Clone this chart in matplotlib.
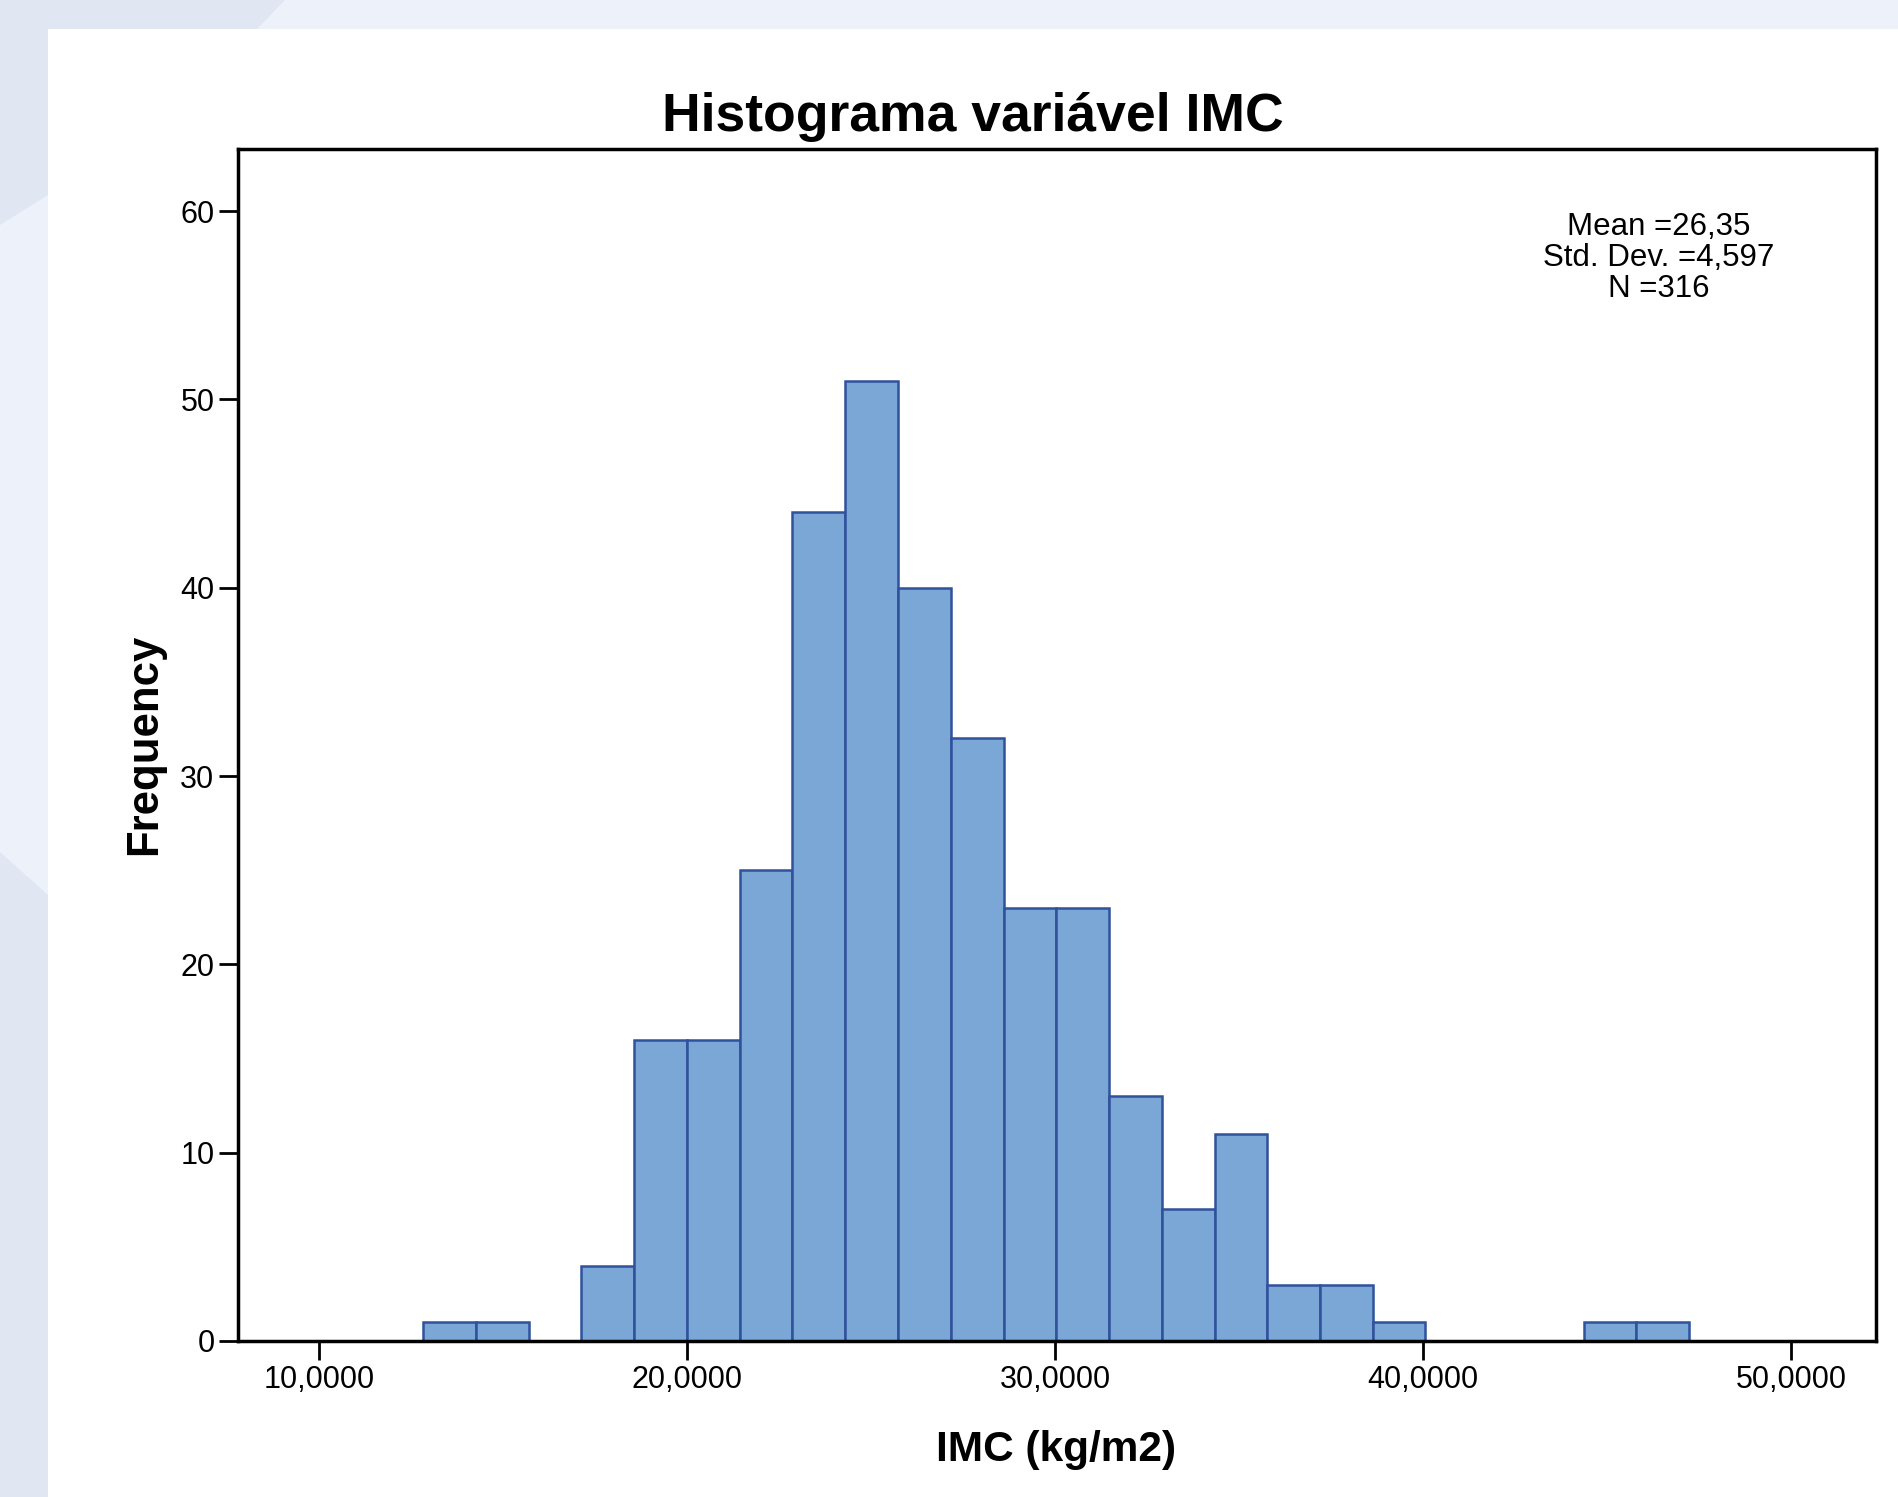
import numpy as np
import matplotlib.pyplot as plt
from matplotlib.patches import Polygon, Rectangle
from matplotlib.ticker import FuncFormatter

plt.rcParams["font.family"] = ["Liberation Sans", "DejaVu Sans"]

# histogram bins (IMC, kg/m2)
binEdges = [12.83, 14.26, 15.70, 17.13, 18.56, 20.00, 21.43, 22.86, 24.30,
            25.73, 27.16, 28.60, 30.03, 31.46, 32.90, 34.33, 35.76, 37.19,
            38.63, 40.06, 41.49, 42.93, 44.36, 45.79, 47.23]
counts = [1, 1, 0, 4, 16, 16, 25, 44, 51, 40, 32, 23, 23, 13, 7, 11,
          3, 3, 1, 0, 0, 0, 1, 1]
xTicks = [10, 20, 30, 40, 50]
yTicks = [0, 10, 20, 30, 40, 50, 60]
statsText = "Mean =26,35\nStd. Dev. =4,597\nN =316"

W, H = 1899, 1497
fig = plt.figure(figsize=(W / 100, H / 100), dpi=100)
fig.patch.set_facecolor("#edf1f9")

def px(points):
    return [(x / W, 1 - y / H) for x, y in points]

# page background: light bluish shapes behind a white panel
dark = "#e0e7f3"
fig.patches.append(Polygon(px([(0, 0), (285, 0), (257, 29), (48, 29), (48, 195), (0, 225)]),
                           closed=True, transform=fig.transFigure, facecolor=dark,
                           edgecolor="none", zorder=-10))
fig.patches.append(Polygon(px([(0, 852), (48, 895), (48, H), (0, H)]),
                           closed=True, transform=fig.transFigure, facecolor=dark,
                           edgecolor="none", zorder=-10))
fig.patches.append(Rectangle((48 / W, 0), 1 - 48 / W, 1 - 29 / H,
                             transform=fig.transFigure, facecolor="white",
                             edgecolor="none", zorder=-9))

ax = fig.add_axes([238 / W, 1 - 1341 / H, (1876 - 238) / W, (1341 - 149) / H])
ax.set_facecolor("white")

edges = np.array(binEdges)
ax.bar(edges[:-1], counts, width=np.diff(edges), align="edge",
       color="#7aa7d6", edgecolor="#30519c", linewidth=1.8, zorder=2)

ax.set_xlim(7.8, 52.3)
ax.set_ylim(0, 63.3)
ax.set_xticks(xTicks)
ax.set_yticks(yTicks)
ax.xaxis.set_major_formatter(FuncFormatter(lambda v, p: f"{v:.4f}".replace(".", ",")))
ax.tick_params(axis="both", direction="out", length=14, width=2, labelsize=22, pad=3)

for s in ax.spines.values():
    s.set_linewidth(2.5)
    s.set_color("black")

fig.text(1659 / W, 1 - 258 / H, statsText, ha="center", va="center",
         fontsize=22.5, linespacing=1.03)

fig.text(973 / W, 1 - 117 / H, "Histograma variável IMC", ha="center", va="center",
         fontsize=38.5, fontweight="bold")
fig.text(1056 / W, 1 - 1450 / H, "IMC (kg/m2)", ha="center", va="center",
         fontsize=30.5, fontweight="bold")
fig.text(145 / W, 1 - 744 / H, "Frequency", ha="center", va="center",
         rotation=90, fontsize=31.5, fontweight="bold")

fig.savefig("out.png", dpi=100, facecolor=fig.get_facecolor())
